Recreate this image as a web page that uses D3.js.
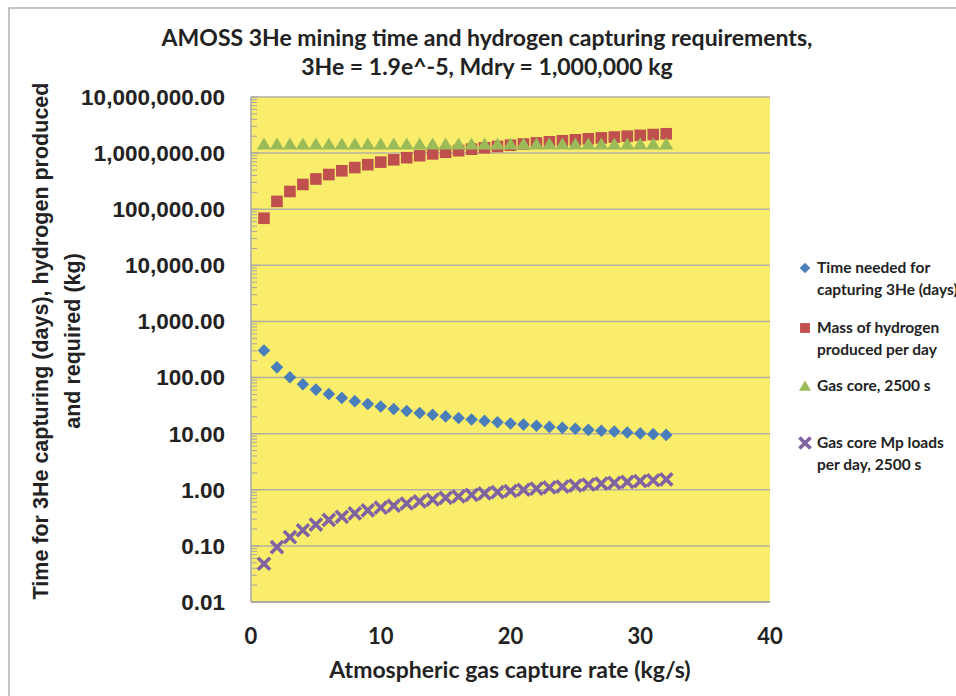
<!DOCTYPE html>
<html><head><meta charset="utf-8">
<script src="https://cdn.jsdelivr.net/npm/d3@7"></script>
<style>body{margin:0;background:#fff}svg{display:block}</style>
</head><body><svg id="c" width="956" height="696"></svg>
<script>
const captureRate = [1,2,3,4,5,6,7,8,9,10,11,12,13,14,15,16,17,18,19,20,21,22,23,24,25,26,27,28,29,30,31,32];
const timeNeeded = [304,152,101,76,61,51,43.4,38,33.8,30.4,27.6,25.3,23.4,21.7,20.3,19,17.9,16.9,16,15.2,14.5,13.8,13.2,12.7,12.2,11.7,11.3,10.9,10.5,10.1,9.8,9.5];
const hydrogenPerDay = [69000,138000,207000,276000,346000,415000,484000,553000,622000,691000,760000,829000,899000,968000,1037000,1106000,1175000,1244000,1313000,1382000,1452000,1521000,1590000,1659000,1728000,1797000,1866000,1935000,2004000,2074000,2143000,2212000];
const gasCore = [1450000,1450000,1450000,1450000,1450000,1450000,1450000,1450000,1450000,1450000,1450000,1450000,1450000,1450000,1450000,1450000,1450000,1450000,1450000,1450000,1450000,1450000,1450000,1450000,1450000,1450000,1450000,1450000,1450000,1450000,1450000,1450000];
const mpLoads = [0.048,0.095,0.143,0.19,0.24,0.29,0.33,0.38,0.43,0.48,0.52,0.57,0.62,0.67,0.72,0.76,0.81,0.86,0.91,0.95,1.0,1.05,1.10,1.14,1.19,1.24,1.29,1.33,1.38,1.43,1.48,1.53];
const yTicks = [0.01,0.1,1,10,100,1000,10000,100000,1000000,10000000];
const xTicks = [0,10,20,30,40];
const seriesNames = [["Time needed for","capturing 3He (days)"],["Mass of hydrogen","produced per day"],["Gas core, 2500 s"],["Gas core Mp loads","per day, 2500 s"]];
const titleLines = ["AMOSS 3He mining time and hydrogen capturing requirements,","3He = 1.9e^-5, Mdry = 1,000,000 kg"];
const xTitle = "Atmospheric gas capture rate (kg/s)";
const yTitleLines = ["Time for 3He capturing (days), hydrogen produced","and required (kg)"];

const svg = d3.select("#c");
const L = 251, R = 770, T = 97, B = 602;
const x = d3.scaleLinear().domain([0,40]).range([L,R]);
const y = d3.scaleLog().domain([0.01,1e7]).range([B,T]);
const calib = "Lato, 'Open Sans', sans-serif";
const arial = "'Liberation Sans', Arial, sans-serif";

// outer chart border
svg.append("rect").attr("x",9).attr("y",8).attr("width",1000).attr("height",1000)
  .attr("fill","none").attr("stroke","#a0a0a0").attr("stroke-width",1.2);

// plot background
svg.append("rect").attr("x",L).attr("y",T).attr("width",R-L).attr("height",B-T).attr("fill","#f9ed6b");

// gridlines
svg.append("g").selectAll("line").data(yTicks).join("line")
  .attr("x1",L).attr("x2",R).attr("y1",d=>y(d)).attr("y2",d=>y(d))
  .attr("stroke","#b4b1a0").attr("stroke-width",1.5);

// minor ticks
const minors = [];
yTicks.slice(0,-1).forEach(d=>{for(let k=2;k<=9;k++) minors.push(d*k);});
svg.append("g").selectAll("line").data(minors).join("line")
  .attr("x1",L).attr("x2",L+6).attr("y1",d=>y(d)).attr("y2",d=>y(d))
  .attr("stroke","#a6a6a6").attr("stroke-width",1);
svg.append("g").selectAll("line").data(yTicks).join("line")
  .attr("x1",L).attr("x2",L+8).attr("y1",d=>y(d)).attr("y2",d=>y(d))
  .attr("stroke","#a6a6a6").attr("stroke-width",1);

// axis lines
svg.append("line").attr("x1",L).attr("x2",L).attr("y1",T).attr("y2",B).attr("stroke","#a6a6a6").attr("stroke-width",1.5);
svg.append("line").attr("x1",L).attr("x2",R).attr("y1",B).attr("y2",B).attr("stroke","#a6a6a6").attr("stroke-width",1.5);

// y tick labels
const fmt = d3.format(",.2f");
svg.append("g").selectAll("text").data(yTicks).join("text")
  .attr("x",225).attr("y",d=>y(d)).attr("dy","0.35em").attr("text-anchor","end")
  .attr("font-family",arial).attr("font-weight","bold").attr("font-size",22.5).attr("fill","#222")
  .text(d=>fmt(d));

// x tick labels
svg.append("g").selectAll("text").data(xTicks).join("text")
  .attr("x",d=>x(d)).attr("y",636).attr("dy","0.35em").attr("text-anchor","middle")
  .attr("font-family",calib).attr("font-weight","bold").attr("font-size",22).attr("fill","#222")
  .text(d=>d);

// titles
svg.append("g").selectAll("text").data(titleLines).join("text")
  .attr("x",487).attr("y",(d,i)=>38+i*29).attr("dy","0.35em").attr("text-anchor","middle")
  .attr("font-family",calib).attr("font-weight","bold").attr("font-size",23).attr("fill","#222")
  .text(d=>d);
svg.append("text").attr("x",510).attr("y",670).attr("dy","0.35em").attr("text-anchor","middle")
  .attr("font-family",calib).attr("font-weight","bold").attr("font-size",23).attr("fill","#222")
  .text(xTitle);
svg.append("g").selectAll("text").data(yTitleLines).join("text")
  .attr("transform",(d,i)=>`translate(${40+i*32},341) rotate(-90)`).attr("dy","0.35em").attr("text-anchor","middle")
  .attr("font-family",arial).attr("font-weight","bold").attr("font-size",21.5).attr("fill","#222")
  .text(d=>d);

// marker shapes
const shapes = {
  diamond: s=>`M0,${-s}L${s},0L0,${s}L${-s},0Z`,
  square: s=>`M${-s},${-s}H${s}V${s}H${-s}Z`,
  triangle: s=>`M0,${-s}L${s*1.1},${s*0.85}L${-s*1.1},${s*0.85}Z`,
  cross: s=>`M${-s},${-s}L${s},${s}M${s},${-s}L${-s},${s}`
};
const series = [
  {vals:timeNeeded, shape:"diamond", size:6.3, color:"#4a7ebb"},
  {vals:hydrogenPerDay, shape:"square", size:5.8, color:"#c0504d"},
  {vals:gasCore, shape:"triangle", size:6.5, color:"#9bbb59"},
  {vals:mpLoads, shape:"cross", size:4.8, color:"#8064a2"}
];
function drawMarker(g, s){
  if(s.shape==="cross"){
    g.attr("d",shapes.cross(s.size)).attr("fill","none").attr("stroke",s.color).attr("stroke-width",3.6).attr("stroke-linecap","square");
  } else {
    g.attr("d",shapes[s.shape](s.size)).attr("fill",s.color);
  }
}
series.forEach(s=>{
  svg.append("g").selectAll("path").data(captureRate.map((r,i)=>[r,s.vals[i]])).join("path")
    .attr("transform",d=>`translate(${x(d[0])},${y(d[1])})`)
    .call(g=>drawMarker(g,s));
});

// legend
const legY = [268,328,386,443];
series.forEach((s,i)=>{
  svg.append("path").attr("transform",`translate(805,${legY[i]})`).call(g=>drawMarker(g,{...s,size:s.shape==="cross"?4.3:s.size*0.85}));
  svg.append("g").selectAll("text").data(seriesNames[i]).join("text")
    .attr("x",817).attr("y",(d,j)=>legY[i]+j*22).attr("dy","0.35em")
    .attr("font-family",calib).attr("font-weight","bold").attr("font-size",15.5).attr("fill","#222")
    .text(d=>d);
});
</script></body></html>
